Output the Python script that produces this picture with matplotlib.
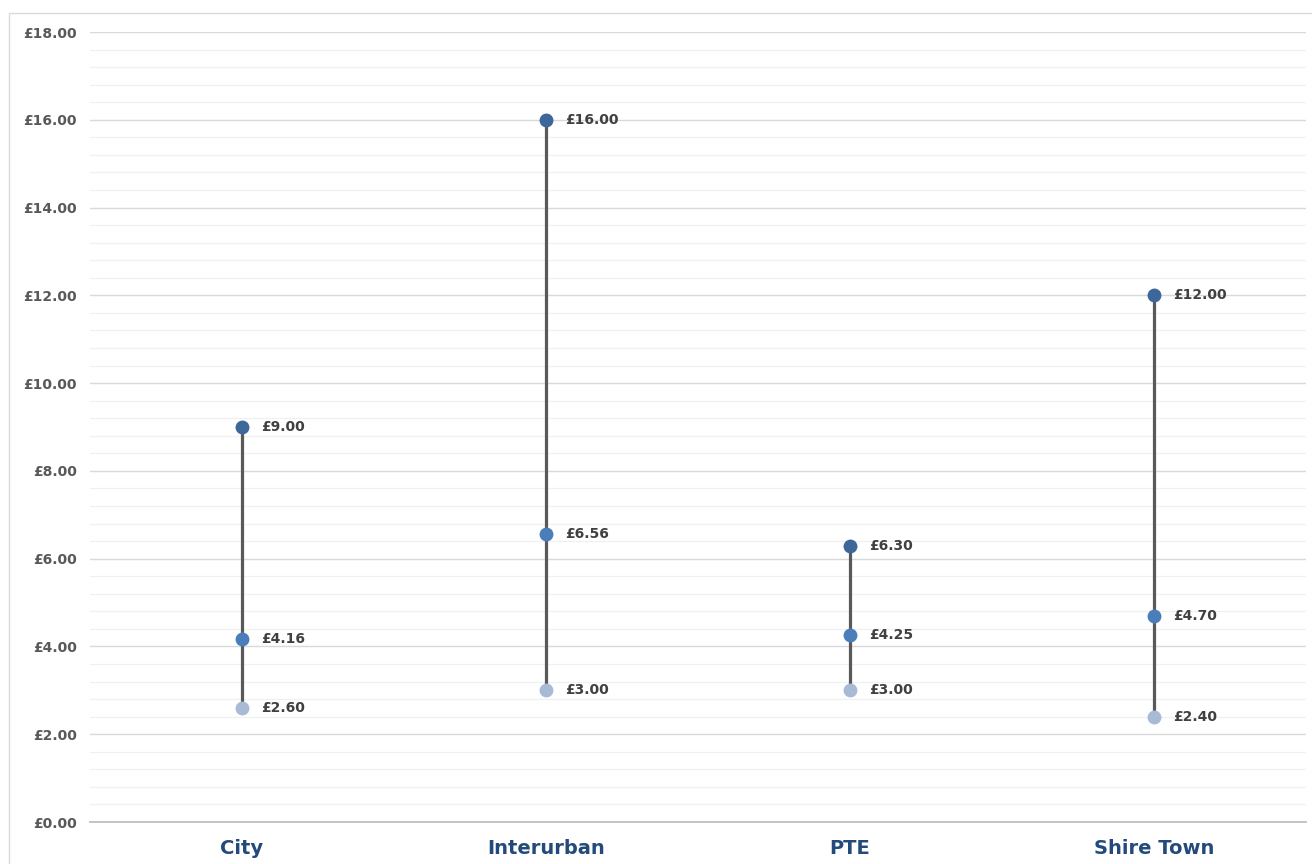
import matplotlib
matplotlib.use("Agg")
import matplotlib.pyplot as plt
from matplotlib.patches import Rectangle
from matplotlib.ticker import MultipleLocator, FuncFormatter

categories = ["City", "Interurban", "PTE", "Shire Town"]
max_fare = [9.00, 16.00, 6.30, 12.00]
avg_fare = [4.16, 6.56, 4.25, 4.70]
min_fare = [2.60, 3.00, 3.00, 2.40]

W, H = 1312, 864
fig = plt.figure(figsize=(W / 100, H / 100), dpi=100)
fig.patch.set_facecolor("white")
fig.patches.append(Rectangle((9 / W, -0.1), 1.2, (H - 13) / H + 0.1, transform=fig.transFigure,
                             fill=False, edgecolor="#d9d9d9", linewidth=1.0))

ax = fig.add_axes([90 / W, 42 / H, (1306 - 90) / W, 790 / H])
ax.set_xlim(-0.5, len(categories) - 0.5)
ax.set_ylim(0, 18)

ax.yaxis.set_major_locator(MultipleLocator(2))
ax.yaxis.set_minor_locator(MultipleLocator(0.4))
ax.grid(which="major", axis="y", color="#d9d9d9", linewidth=1.0)
ax.grid(which="minor", axis="y", color="#f0f0f0", linewidth=0.9)
ax.set_axisbelow(True)
for s in ["top", "right", "left"]:
    ax.spines[s].set_visible(False)
ax.spines["bottom"].set_color("#bfbfbf")
ax.spines["bottom"].set_linewidth(1.3)

ax.yaxis.set_major_formatter(FuncFormatter(lambda v, p: f"£{v:.2f}"))
ax.tick_params(axis="y", which="both", length=0, pad=9.5, labelsize=10, labelcolor="#595959")
for t in ax.get_yticklabels():
    t.set_fontweight("bold")
ax.set_xticks(range(len(categories)))
ax.set_xticklabels(categories, fontsize=14, fontweight="bold", color="#234a7a")
ax.tick_params(axis="x", length=0, pad=12)

xs = list(range(len(categories)))
for i in xs:
    ax.plot([i, i], [min_fare[i], max_fare[i]], color="#595959", linewidth=2.3, zorder=2,
            solid_capstyle="butt")
ax.plot(xs, max_fare, "o", color="#3d6799", markersize=10, zorder=3, markeredgewidth=0)
ax.plot(xs, avg_fare, "o", color="#4a7ebb", markersize=10, zorder=3, markeredgewidth=0)
ax.plot(xs, min_fare, "o", color="#a9bad6", markersize=10, zorder=3, markeredgewidth=0)

for series in (max_fare, avg_fare, min_fare):
    for i, v in enumerate(series):
        ax.annotate(f"£{v:.2f}", (i, v), xytext=(14, 0), textcoords="offset points",
                    ha="left", va="center", fontsize=10, fontweight="bold", color="#404040")

fig.savefig("out.png", dpi=100, facecolor="white")
